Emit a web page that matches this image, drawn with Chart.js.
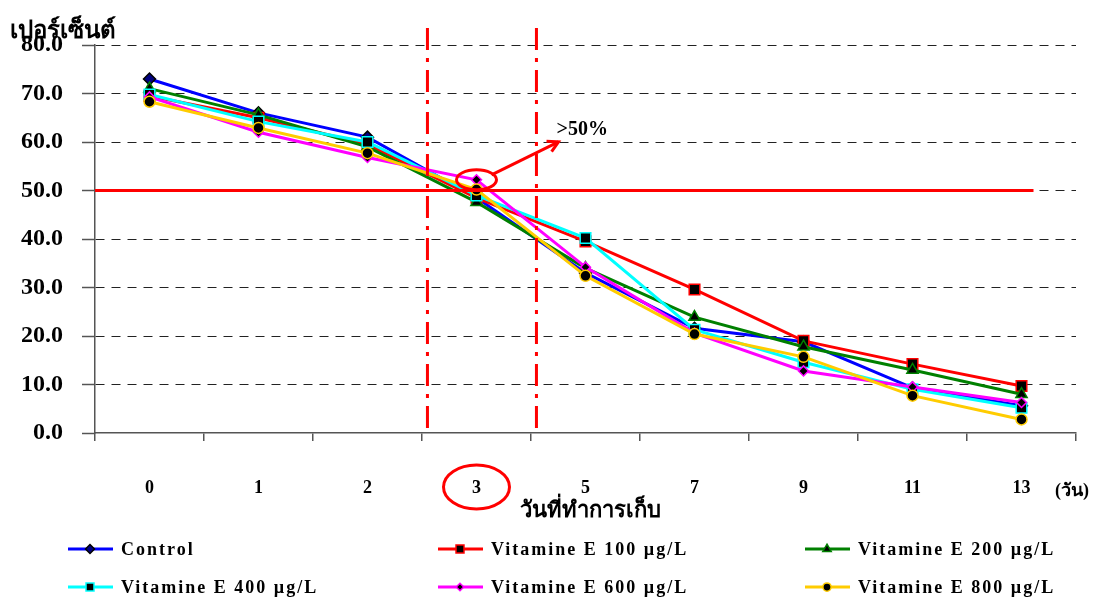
<!DOCTYPE html>
<html>
<head>
<meta charset="utf-8">
<script src="https://cdn.jsdelivr.net/npm/chart.js@4.4.1/dist/chart.umd.min.js"></script>
<style>
  html, body { margin: 0; padding: 0; background: #fff; }
  #wrap { width: 1094px; height: 601px; }
</style>
</head>
<body>
<div id="wrap"><canvas id="chart" width="1094" height="601"></canvas></div>
<script>
// วันที่ทำการเก็บ (days) and % remaining per treatment
const days     = ["0", "1", "2", "3", "5", "7", "9", "11", "13"];
const control  = [73.0, 66.0, 61.0, 48.5, 33.0, 21.6, 18.8, 9.3, 5.6];
const vitE100  = [69.5, 65.0, 59.5, 48.5, 39.5, 29.6, 19.0, 14.2, 9.7];
const vitE200  = [71.0, 65.6, 59.0, 47.6, 34.0, 23.9, 17.8, 13.0, 8.0];
const vitE400  = [69.8, 64.2, 60.0, 49.0, 40.2, 21.3, 14.6, 9.0, 5.2];
const vitE600  = [69.3, 62.0, 56.8, 52.2, 34.2, 20.6, 12.8, 9.5, 6.3];
const vitE800  = [68.3, 62.9, 57.7, 50.2, 32.4, 20.4, 15.7, 7.7, 2.8];
const yTicks   = [0, 10, 20, 30, 40, 50, 60, 70, 80];
const threshold = 50;

const SERIF = "'Liberation Serif', 'Times New Roman', 'Noto Sans', 'DejaVu Sans', serif";

function series(label, data, color, style, fill, border, radius, order) {
  return {
    label, data, order,
    borderColor: color,
    borderWidth: 3,
    tension: 0,
    pointStyle: style,
    pointRadius: radius,
    pointHoverRadius: radius,
    pointBackgroundColor: fill,
    pointBorderColor: border,
    pointBorderWidth: 1.5
  };
}

const datasets = [
  series("Control",              control, "#0000ff", "rectRot",  "#000080", "#000000", 6,   6),
  series("Vitamine E 100 µg/L",  vitE100, "#ff0000", "rect",     "#000000", "#ff0000", 7.5, 5),
  series("Vitamine E 200 µg/L",  vitE200, "#008000", "triangle", "#000000", "#008000", 6.5, 4),
  series("Vitamine E 400 µg/L",  vitE400, "#00ffff", "rect",     "#000000", "#00ffff", 7.5, 3),
  series("Vitamine E 600 µg/L",  vitE600, "#ff00ff", "rectRot",  "#000000", "#ff00ff", 5,   2),
  series("Vitamine E 800 µg/L",  vitE800, "#ffcc00", "circle",   "#000000", "#ffcc00", 5.5, 1)
];

// red guide marks: 50% line, dash-dot day window, circled day 3
const guides = {
  id: "guides",
  afterDatasetsDraw(chart) {
    const { ctx, scales: { x, y } } = chart;
    ctx.save();
    ctx.strokeStyle = "#ff0000";
    ctx.lineWidth = 3;

    const yT = y.getPixelForValue(threshold);
    ctx.beginPath();
    ctx.moveTo(x.left, yT);
    ctx.lineTo(x.getPixelForValue(8) + 12, yT);
    ctx.stroke();

    ctx.setLineDash([22, 8, 4, 8]);
    [2.55, 3.55].forEach(v => {
      const px = x.getPixelForValue(v);
      ctx.beginPath();
      ctx.moveTo(px, y.getPixelForValue(83.5));
      ctx.lineTo(px, y.bottom);
      ctx.stroke();
    });
    ctx.setLineDash([]);

    const cx = x.getPixelForValue(3);
    const cy = y.getPixelForValue(vitE600[3]);
    ctx.beginPath();
    ctx.ellipse(cx, cy, 20, 10, 0, 0, Math.PI * 2);
    ctx.stroke();

    // arrow to the >50% note
    const ax = cx + 15, ay = cy - 5, bx = cx + 82, by = cy - 38;
    ctx.beginPath();
    ctx.moveTo(ax, ay);
    ctx.lineTo(bx, by);
    ctx.stroke();
    const ang = Math.atan2(by - ay, bx - ax);
    ctx.beginPath();
    ctx.moveTo(bx - 12 * Math.cos(ang - 0.5), by - 12 * Math.sin(ang - 0.5));
    ctx.lineTo(bx, by);
    ctx.lineTo(bx - 12 * Math.cos(ang + 0.5), by - 12 * Math.sin(ang + 0.5));
    ctx.stroke();

    ctx.fillStyle = "#000";
    ctx.font = "bold 20px " + SERIF;
    ctx.textAlign = "left";
    ctx.textBaseline = "middle";
    ctx.fillText(">50%", cx + 80, cy - 50);

    ctx.beginPath();
    ctx.ellipse(cx, 487, 33, 22, 0, 0, Math.PI * 2);
    ctx.stroke();
    ctx.restore();
  }
};

// axis titles and the three-column legend
const captions = {
  id: "captions",
  afterDraw(chart) {
    const { ctx } = chart;
    ctx.save();
    ctx.fillStyle = "#000";
    ctx.textBaseline = "alphabetic";
    ctx.font = "bold 24px " + SERIF;
    ctx.textAlign = "left";
    ctx.fillText("เปอร์เซ็นต์", 10, 38);

    ctx.font = "bold 22px " + SERIF;
    ctx.textAlign = "center";
    ctx.fillText("วันที่ทำการเก็บ", 590, 517);

    ctx.font = "bold 18px " + SERIF;
    ctx.textAlign = "left";
    ctx.fillText("(วัน)", 1055, 496);

    const cols = [68, 438, 805];
    const rows = [549, 587];
    ctx.font = "bold 18px " + SERIF;
    ctx.textBaseline = "middle";
    chart.data.datasets.forEach((ds, i) => {
      const lx = cols[i % 3], ly = rows[Math.floor(i / 3)];
      ctx.strokeStyle = ds.borderColor;
      ctx.lineWidth = 3;
      ctx.beginPath();
      ctx.moveTo(lx, ly);
      ctx.lineTo(lx + 45, ly);
      ctx.stroke();
      ctx.fillStyle = ds.pointBackgroundColor;
      ctx.strokeStyle = ds.pointBorderColor;
      ctx.lineWidth = ds.pointBorderWidth;
      Chart.helpers.drawPoint(ctx, {
        pointStyle: ds.pointStyle,
        radius: ds.pointRadius * 0.75,
        borderWidth: ds.pointBorderWidth
      }, lx + 22, ly);
      ctx.fillStyle = "#000";
      ctx.letterSpacing = "2px";
      ctx.fillText(ds.label, lx + 53, ly + 1);
      ctx.letterSpacing = "0px";
    });
    ctx.restore();
  }
};

new Chart(document.getElementById("chart"), {
  type: "line",
  data: { labels: days, datasets },
  options: {
    responsive: false,
    animation: false,
    layout: { padding: { top: 45, right: 18, left: 0, bottom: 0 } },
    plugins: { legend: { display: false }, tooltip: { enabled: false } },
    scales: {
      x: {
        offset: true,
        grid: {
          offset: true,
          drawOnChartArea: false,
          tickLength: 8,
          tickColor: "#555",
          lineWidth: 1.5
        },
        border: { color: "#555", width: 1.5 },
        ticks: {
          padding: 37,
          color: "#000",
          font: { family: SERIF, size: 18, weight: "bold" }
        },
        afterFit: s => { s.height = 168; }
      },
      y: {
        min: 0,
        max: 80,
        afterBuildTicks: s => { s.ticks = yTicks.map(v => ({ value: v })); },
        grid: {
          color: c => c.tick && c.tick.value === 0 ? "transparent" : "#222",
          lineWidth: 1,
          tickLength: 13,
          tickColor: "#555",
          tickWidth: 1.5
        },
        border: { color: "#555", width: 1.5, dash: [9, 7] },
        ticks: {
          padding: 19,
          color: "#000",
          callback: v => Number(v).toFixed(1),
          font: { family: SERIF, size: 24, weight: "bold" }
        },
        afterFit: s => { s.width = 95; }
      }
    }
  },
  plugins: [guides, captions]
});
</script>
</body>
</html>
